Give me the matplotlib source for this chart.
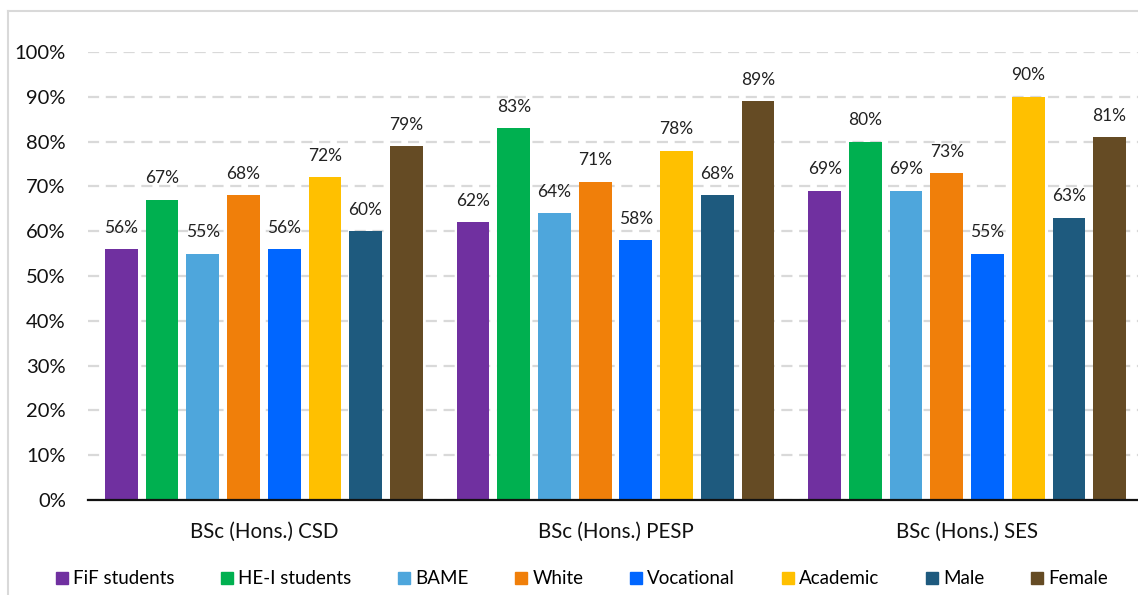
import matplotlib
matplotlib.use("Agg")
import matplotlib.pyplot as plt
import numpy as np
from matplotlib.lines import Line2D
from matplotlib.ticker import FuncFormatter

plt.rcParams['font.family'] = ['Lato', 'DejaVu Sans']

# programmes and the student groups compared within each
programmes = ["BSc (Hons.) CSD", "BSc (Hons.) PESP", "BSc (Hons.) SES"]
groups = ["FiF students", "HE-I students", "BAME", "White",
          "Vocational", "Academic", "Male", "Female"]

# percentage per group, one list per programme
csd = [56, 67, 55, 68, 56, 72, 60, 79]
pesp = [62, 83, 64, 71, 58, 78, 68, 89]
ses = [69, 80, 69, 73, 55, 90, 63, 81]

colors = ["#7030A0", "#00B050", "#4EA6DC", "#F07F0A",
          "#0066FF", "#FFC000", "#1E5A7E", "#654B24"]

values = np.array([csd, pesp, ses])

fig = plt.figure(figsize=(11.38, 5.95), dpi=100)
# plot area runs slightly past the right edge of the canvas
ax = fig.add_axes([88 / 1138, 1 - 500 / 595, 1055 / 1138, 448 / 595])

x = np.arange(len(programmes))
pitch = 0.1157
width = 0.093
n = len(groups)
for i, (g, c) in enumerate(zip(groups, colors)):
    pos = x + (i - (n - 1) / 2) * pitch
    vals = values[:, i]
    ax.bar(pos, vals, width, color=c, label=g, zorder=3)
    for px, v in zip(pos, vals):
        ax.text(px, v + 3.0, f"{v}%", ha="center", va="bottom",
                fontsize=12.5, color="#222222")

ax.set_ylim(0, 100)
ax.set_xlim(-0.5, 2.5)
ax.set_yticks(np.arange(0, 101, 10))
ax.yaxis.set_major_formatter(FuncFormatter(lambda v, p: f"{v:.0f}%"))
ax.set_xticks(x)
ax.set_xticklabels(programmes)
ax.tick_params(axis="y", length=0, labelsize=14.5, colors="#111111", pad=16)
ax.tick_params(axis="x", length=0, labelsize=14.8, colors="#111111", pad=16)
ax.grid(axis="y", color="#d9d9d9", linestyle=(0, (5, 3)), linewidth=1.6, zorder=0)
for s in ["top", "right", "left"]:
    ax.spines[s].set_visible(False)
ax.spines["bottom"].set_color("#111111")
ax.spines["bottom"].set_linewidth(1.6)
ax.spines["bottom"].set_zorder(4)

# outer chart border (top and left edges)
fig.add_artist(Line2D([8 / 1138, 1], [1 - 11 / 595] * 2, color="#d9d9d9", lw=1.5))
fig.add_artist(Line2D([8 / 1138] * 2, [0, 1 - 11 / 595], color="#d9d9d9", lw=1.5))

handles = [Line2D([], [], marker="s", linestyle="", markersize=8, color=c) for c in colors]
fig.legend(handles, groups, loc="center", bbox_to_anchor=(580 / 1138, 1 - 579 / 595),
           ncol=n, frameon=False, fontsize=13.5, handletextpad=0.1,
           columnspacing=2.3, handlelength=1.0)

fig.savefig("out.png", dpi=100)
